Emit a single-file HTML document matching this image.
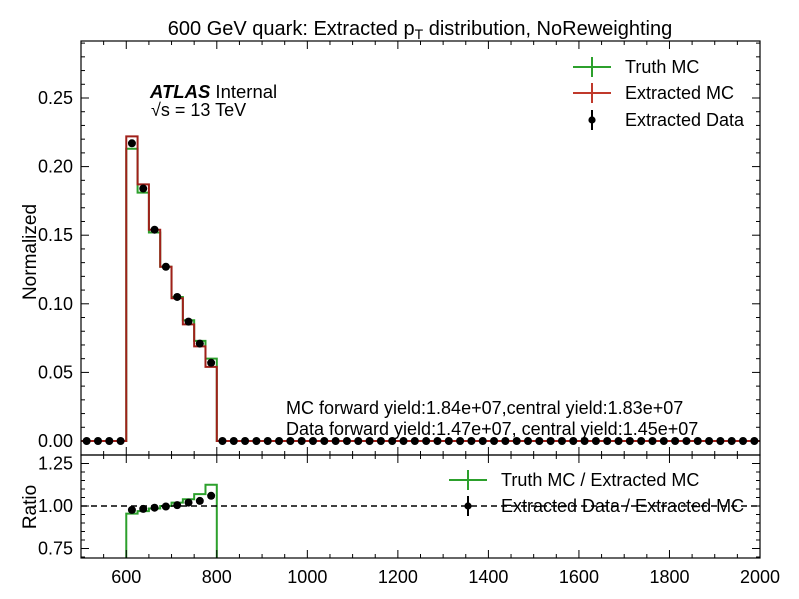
<!DOCTYPE html>
<html><head><meta charset="utf-8">
<style>
body{margin:0;background:#fff;}
svg{display:block;font-family:"Liberation Sans",sans-serif;}
</style></head>
<body>
<svg id="chart" width="799" height="599" viewBox="0 0 799 599" xmlns="http://www.w3.org/2000/svg">
<g id="plot"></g>
</svg>
<script>
const binEdges = [500,525,550,575,600,625,650,675,700,725,750,775,800];
const sigBins = [600,625,650,675,700,725,750,775];
const truthMC = [0.213,0.181,0.152,0.127,0.105,0.088,0.073,0.060];
const extractedMC = [0.222,0.187,0.154,0.127,0.104,0.085,0.069,0.054];
const extractedData = [0.217,0.184,0.154,0.127,0.105,0.087,0.071,0.057];
const ratioTruth = [0.955,0.97,0.985,1.0,1.02,1.04,1.07,1.125];
const ratioData = [0.977,0.983,0.99,0.997,1.005,1.02,1.03,1.06];
const xTicks = [600,800,1000,1200,1400,1600,1800,2000];
const yTicks = [0.00,0.05,0.10,0.15,0.20,0.25];
const rTicks = [0.75,1.00,1.25];
const binWidth = 25;

const NS="http://www.w3.org/2000/svg";
const g=document.getElementById('plot');
const L=81,R=760,T=41,MB=455,RB=558;
const X=v=>L+(v-500)*(R-L)/1500;
const Y=v=>441-v*1372;
const YR=v=>506-(v-1)*170;
function el(tag,attrs,parent){const e=document.createElementNS(NS,tag);for(const k in attrs)e.setAttribute(k,attrs[k]);(parent||g).appendChild(e);return e;}
function txt(s,x,y,attrs){const e=el('text',Object.assign({x:x,y:y,'font-size':18,fill:'#000'},attrs||{}));e.textContent=s;return e;}

function stepPath(vals,yf){
  let d=`M${X(500)},${yf(0)} L${X(600)},${yf(0)}`;
  sigBins.forEach((b,i)=>{d+=` L${X(b)},${yf(vals[i])} L${X(b+binWidth)},${yf(vals[i])}`;});
  d+=` L${X(800)},${yf(0)} L${X(2000)},${yf(0)}`;
  return d;
}
let p=el('path',{d:stepPath(truthMC,Y),fill:'none',stroke:'#2ca02c','stroke-width':2});

p=el('path',{d:stepPath(extractedMC,Y),fill:'none',stroke:'#a0201a','stroke-width':2});

for(let c=512.5;c<2000;c+=binWidth){
  const i=sigBins.indexOf(c-12.5);
  const v=i>=0?extractedData[i]:0;
  const cc=el('circle',{cx:X(c),cy:Y(v),r:4,fill:'#000'});
  
  
}
let rd=`M${X(600)},${RB}`;
sigBins.forEach((b,i)=>{rd+=` L${X(b)},${YR(ratioTruth[i])} L${X(b+binWidth)},${YR(ratioTruth[i])}`;});
rd+=` L${X(800)},${RB}`;
p=el('path',{d:rd,fill:'none',stroke:'#2ca02c','stroke-width':2});

p=el('line',{x1:L,x2:R,y1:YR(1),y2:YR(1),stroke:'#000','stroke-width':1.5,'stroke-dasharray':'6,4'});

sigBins.forEach((b,i)=>{const c=el('circle',{cx:X(b+12.5),cy:YR(ratioData[i]),r:4,fill:'#000'});

});

p=el('rect',{x:L,y:T,width:R-L,height:MB-T,fill:'none',stroke:'#000','stroke-width':1.2});

p=el('rect',{x:L,y:MB,width:R-L,height:RB-MB,fill:'none',stroke:'#000','stroke-width':1.2});


for(let v=500;v<=2000;v+=50){
  const major=v%200===0, len=major?8:4, x=X(v);
  [[T,1],[MB,-1],[MB,1],[RB,-1]].forEach(([y0,s])=>el('line',{x1:x,x2:x,y1:y0,y2:y0+s*len,stroke:'#000'}));
}
xTicks.forEach(v=>{const t=txt(String(v),X(v),583,{'text-anchor':'middle'});});
for(let k=0;k<=29;k++){const v=k/100,y=Y(v),len=k%5===0?8:4;
  el('line',{x1:L,x2:L+len,y1:y,y2:y,stroke:'#000'});el('line',{x1:R,x2:R-len,y1:y,y2:y,stroke:'#000'});}
yTicks.forEach(v=>{const t=txt(v.toFixed(2),L-8,Y(v)+6,{'text-anchor':'end'});});
for(let k=14;k<=26;k++){const v=k*0.05,y=YR(v),len=k%5===0?8:4;
  el('line',{x1:L,x2:L+len,y1:y,y2:y,stroke:'#000'});el('line',{x1:R,x2:R-len,y1:y,y2:y,stroke:'#000'});}
rTicks.forEach(v=>{const t=txt(v.toFixed(2),L-8,YR(v)+6,{'text-anchor':'end'});});
</script>
<svg width="799" height="599" style="position:absolute;left:0;top:0;font-family:'Liberation Sans',sans-serif">
<text x="420" y="35" font-size="20" text-anchor="middle">600 GeV quark: Extracted p<tspan font-size="14" dy="4">T</tspan><tspan dy="-4"> distribution, NoReweighting</tspan></text>
<text transform="translate(36,252) rotate(-90)" font-size="19" text-anchor="middle">Normalized</text>
<text transform="translate(36,507) rotate(-90)" font-size="19" text-anchor="middle">Ratio</text>
<text x="150" y="98" font-size="18.5"><tspan font-weight="bold" font-style="italic">ATLAS</tspan> Internal</text>
<text x="151" y="116" font-size="18">√s = 13 TeV</text>
<g>
<line x1="573" x2="611" y1="67" y2="67" stroke="#2ca02c" stroke-width="2"/><line x1="592" x2="592" y1="57" y2="77" stroke="#2ca02c" stroke-width="2"/>
<text x="625" y="73" font-size="18">Truth MC</text>
<line x1="573" x2="611" y1="93" y2="93" stroke="#c0392b" stroke-width="2"/><line x1="592" x2="592" y1="83" y2="103" stroke="#c0392b" stroke-width="2"/>
<text x="625" y="99" font-size="18">Extracted MC</text>
<circle cx="592" cy="120" r="3.6"/><line x1="592" x2="592" y1="110" y2="130" stroke="#000" stroke-width="2"/>
<text x="625" y="126" font-size="18">Extracted Data</text>
</g>
<text x="286" y="414" font-size="18">MC forward yield:1.84e+07,central yield:1.83e+07</text>
<text x="286" y="435" font-size="18">Data forward yield:1.47e+07, central yield:1.45e+07</text>
<g>
<line x1="449" x2="487" y1="480" y2="480" stroke="#2ca02c" stroke-width="2"/><line x1="468" x2="468" y1="470" y2="490" stroke="#2ca02c" stroke-width="2"/>
<text x="501" y="486" font-size="18">Truth MC / Extracted MC</text>
<circle cx="468" cy="506" r="3.6"/><line x1="468" x2="468" y1="496" y2="516" stroke="#000" stroke-width="2"/>
<text x="501" y="512" font-size="18">Extracted Data / Extracted MC</text>
</g>
</svg>
</body></html>
